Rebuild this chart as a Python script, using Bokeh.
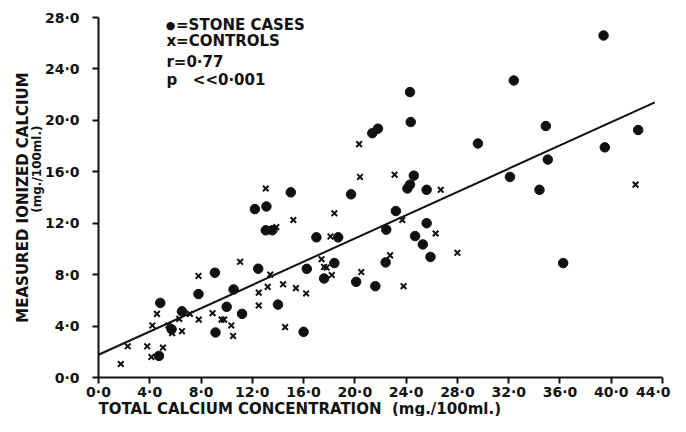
import math
from bokeh.plotting import figure
from bokeh.models import Range1d, Label, FixedTicker, Title
from bokeh.embed import file_html
from bokeh.resources import INLINE

# ---- data ----
stone_x = [4.72, 4.82, 5.7, 6.51, 7.8, 9.08, 9.13, 10.0, 10.54, 11.2,
           12.2, 13.1, 13.05, 13.56, 12.46, 14.0, 15.0, 16.0, 16.25, 17.0,
           17.6, 18.4, 18.7, 19.7, 20.1, 21.36, 21.8, 21.6, 22.4, 22.45,
           23.2, 24.3, 24.36, 24.6, 24.1, 24.3, 24.7, 25.3, 25.6, 25.6,
           25.9, 29.6, 32.1, 32.4, 34.4, 34.9, 35.05, 36.25, 39.4, 39.5, 42.1]
stone_y = [1.68, 5.8, 3.75, 5.15, 6.49, 8.15, 3.5, 5.5, 6.85, 4.95,
           13.1, 13.3, 11.45, 11.45, 8.46, 5.67, 14.4, 3.55, 8.45, 10.9,
           7.7, 8.9, 10.9, 14.25, 7.44, 19.0, 19.35, 7.1, 8.95, 11.5,
           12.95, 22.2, 19.87, 15.7, 14.7, 15.0, 11.0, 10.35, 12.0, 14.6,
           9.38, 18.2, 15.6, 23.1, 14.6, 19.56, 16.95, 8.9, 26.6, 17.9, 19.25]

control_x = [1.74, 2.28, 3.8, 4.13, 5.03, 4.2, 4.56, 5.45, 5.75, 6.3,
             6.51, 7.13, 7.8, 7.82, 8.9, 9.6, 9.8, 10.36, 10.5, 11.05,
             12.5, 12.5, 13.05, 13.2, 13.4, 13.87, 14.4, 14.56, 15.2, 15.4,
             16.2, 17.4, 17.6, 17.8, 18.1, 18.2, 18.4, 20.33, 20.4, 20.5,
             22.75, 23.1, 23.7, 23.8, 26.3, 26.7, 28.0, 41.9]
control_y = [1.05, 2.43, 2.43, 1.6, 2.33, 4.05, 4.95, 4.05, 3.45, 4.56,
             3.6, 4.95, 7.9, 4.5, 5.0, 4.5, 4.5, 4.05, 3.23, 9.0,
             6.6, 5.6, 14.7, 7.05, 8.0, 11.7, 7.25, 3.92, 12.25, 6.95,
             6.54, 9.2, 8.6, 8.55, 10.97, 7.97, 12.77, 18.15, 15.6, 8.2,
             9.5, 15.77, 12.25, 7.1, 11.2, 14.6, 9.7, 15.0]

fit_x = [0.0, 43.4]
fit_y = [1.77, 21.4]

x_ticks = [0, 4, 8, 12, 16, 20, 24, 28, 32, 36, 40, 44]
x_tick_labels = ["0·0", "4·0", "8·0", "12·0", "16·0", "20·0", "24·0",
                 "28·0", "32·0", "36·0", "40·0", "44·0"]
y_ticks = [0, 4, 8, 12, 16, 20, 24, 28]
y_tick_labels = ["0·0", "4·0", "8·0", "12·0", "16·0", "20·0", "24·0", "28·0"]

legend_dot = "●"
legend_lines = ["=STONE CASES", "x=CONTROLS", "r=0·77",
                "p\u00a0\u00a0\u00a0<<0·001"]
x_title = "TOTAL CALCIUM CONCENTRATION \u00a0(mg./100ml.)"
y_title = "MEASURED IONIZED CALCIUM"
y_sub = "(mg./100ml.)"

FONT = "DejaVu Sans"
INK = "#111111"

p = figure(width=670, height=416, output_backend="svg", toolbar_location=None,
           x_range=Range1d(0, 44), y_range=Range1d(0, 28),
           min_border_left=98, min_border_right=8, min_border_top=17,
           min_border_bottom=30)
p.outline_line_color = None
p.grid.visible = False
p.background_fill_color = "white"
p.border_fill_color = "white"

for ax, ticks, labels in ((p.xaxis[0], x_ticks, x_tick_labels),
                          (p.yaxis[0], y_ticks, y_tick_labels)):
    ax.ticker = FixedTicker(ticks=ticks, minor_ticks=[])
    ax.major_label_overrides = {t: l for t, l in zip(ticks, labels)}
    ax.axis_line_width = 2
    ax.axis_line_color = INK
    ax.major_tick_line_width = 2
    ax.major_tick_line_color = INK
    ax.major_tick_out = 6
    ax.major_tick_in = 0
    ax.minor_tick_line_color = None
    ax.major_label_text_font = FONT
    ax.major_label_text_font_size = "14px"
    ax.major_label_text_font_style = "bold"
    ax.major_label_text_color = INK
p.xaxis.major_label_standoff = 0
p.yaxis.major_label_standoff = 13

# fitted line
p.line(fit_x, fit_y, line_width=2, color=INK)
# data
p.scatter(stone_x, stone_y, marker="circle", size=9.5, color=INK)
p.scatter(control_x, control_y, marker="x", size=8, line_width=2, color=INK)

# legend / annotation text (positions in data units, inside the frame)
p.add_layout(Label(x=5.62, y=27.38, text=legend_dot, text_font=FONT,
                   text_font_size="11px", text_color=INK,
                   text_baseline="middle", text_align="center"))
leg_x = [6.05, 5.3, 5.3, 5.3]
leg_y = [27.38, 26.14, 24.52, 23.13]
for txt, lx, ly in zip(legend_lines, leg_x, leg_y):
    p.add_layout(Label(x=lx, y=ly, text=txt, text_font=FONT,
                       text_font_size="15px", text_font_style="bold",
                       text_color=INK, text_baseline="middle", text_align="left"))

# axis titles as side-panel titles
p.add_layout(Title(text=x_title, align="left", vertical_align="top",
                   text_font=FONT, text_font_size="15px", text_font_style="bold",
                   text_color=INK, standoff=-6), "below")
p.add_layout(Title(text=y_sub, align="right", offset=108, text_font=FONT,
                   text_font_size="12px", text_font_style="bold",
                   text_color=INK, standoff=-4), "left")
p.add_layout(Title(text=y_title, align="center", text_font=FONT,
                   text_font_size="15px", text_font_style="bold",
                   text_color=INK, standoff=-4), "left")

open("out.html", "w").write(file_html(p, INLINE))
